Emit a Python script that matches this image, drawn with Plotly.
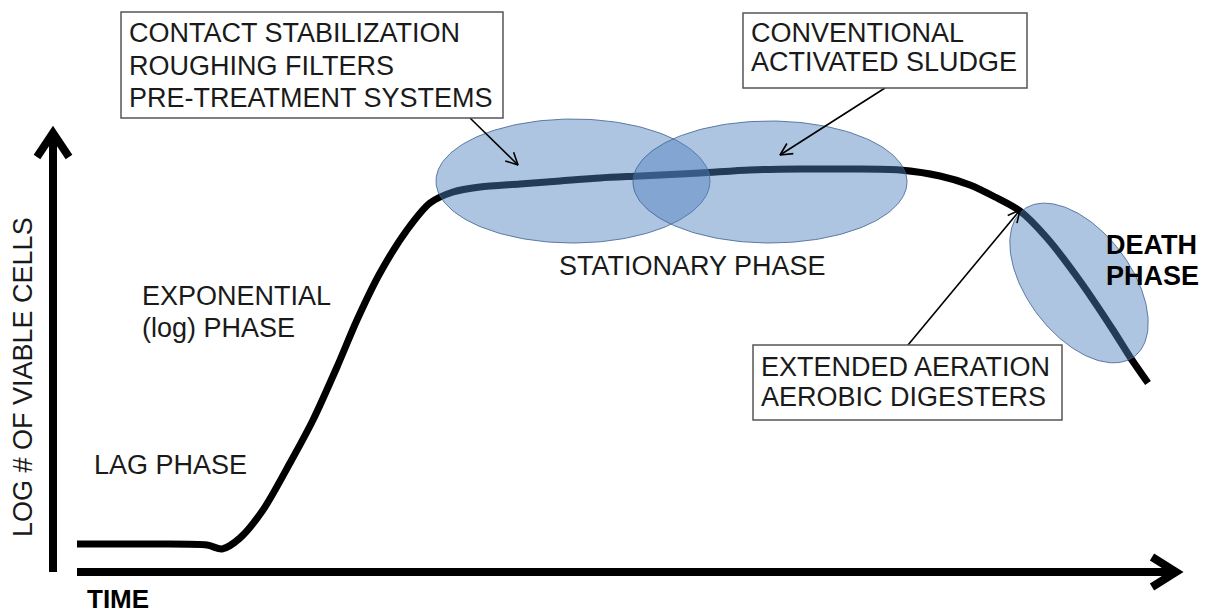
import numpy as np
import plotly.graph_objects as go

# Canvas is drawn in screen-like units: x = time, y = position from the top
W, H = 1210, 614

# growth curve
curve_t = [77, 150, 207, 222, 240, 263, 290, 313, 337, 357, 380, 407, 430, 453, 480,
           520, 560, 600, 640, 700, 750, 800, 850, 900, 940, 970, 995, 1020, 1047,
           1080, 1113, 1130, 1148]
curve_n = [544, 544, 545, 549, 538, 510, 463, 420, 367, 320, 273, 230, 203, 192, 187,
           184, 181, 178, 176, 173, 170, 169, 169, 170, 176, 185, 197, 211, 238,
           281, 330, 357, 383]

# process ellipses: centre, semi-axes, tilt (deg)
ell_cx = [573, 770, 1079]
ell_cy = [181, 182, 283]
ell_rx = [137, 137, 92]
ell_ry = [62, 61, 52]
ell_rot = [0, 0, 53]

# text boxes (x0, x1, y0, y1) and their lines
box_x0 = [121, 743, 753]
box_x1 = [503, 1027, 1062]
box_y0 = [12, 13, 345]
box_y1 = [118, 88, 420]
box_lines = [
    ["CONTACT STABILIZATION", "ROUGHING FILTERS", "PRE-TREATMENT SYSTEMS"],
    ["CONVENTIONAL", "ACTIVATED SLUDGE"],
    ["EXTENDED AERATION", "AEROBIC DIGESTERS"],
]
box_line_y = [[33, 66, 98], [33, 62], [367, 397]]

# callout arrows: tail -> head
arrow_tail_x = [470, 885, 908]
arrow_tail_y = [118, 88, 345]
arrow_head_x = [518, 780, 1020]
arrow_head_y = [165, 155, 210]

FONT = "Arial, 'Liberation Sans', sans-serif"
INK = "#1a1a1a"

fig = go.Figure()

# axes with chevron heads
fig.add_trace(go.Scatter(x=[53, 53], y=[572, 133], mode="lines",
                         line=dict(color="black", width=8), hoverinfo="skip"))
fig.add_trace(go.Scatter(x=[37, 53, 69], y=[157, 133, 157], mode="lines",
                         line=dict(color="black", width=8), hoverinfo="skip"))
fig.add_trace(go.Scatter(x=[77, 1176], y=[572, 572], mode="lines",
                         line=dict(color="black", width=8), hoverinfo="skip"))
fig.add_trace(go.Scatter(x=[1152, 1176, 1152], y=[557, 572, 587], mode="lines",
                         line=dict(color="black", width=8), hoverinfo="skip"))

# growth curve
fig.add_trace(go.Scatter(x=curve_t, y=curve_n, mode="lines",
                         line=dict(color="black", width=7, shape="spline", smoothing=0.8),
                         hoverinfo="skip"))

# ellipses on top of the curve
t = np.linspace(0, 2 * np.pi, 200)
for cx, cy, rx, ry, rot in zip(ell_cx, ell_cy, ell_rx, ell_ry, ell_rot):
    a = np.deg2rad(rot)
    ex = cx + rx * np.cos(t) * np.cos(a) - ry * np.sin(t) * np.sin(a)
    ey = cy + rx * np.cos(t) * np.sin(a) + ry * np.sin(t) * np.cos(a)
    fig.add_trace(go.Scatter(x=ex, y=ey, mode="lines", fill="toself",
                             fillcolor="rgba(79,129,189,0.46)",
                             line=dict(color="rgba(60,95,145,0.8)", width=1),
                             hoverinfo="skip"))

# callout arrows with open heads
for tx, ty, hx, hy in zip(arrow_tail_x, arrow_tail_y, arrow_head_x, arrow_head_y):
    u = np.array([hx - tx, hy - ty], dtype=float)
    u /= np.linalg.norm(u)
    p = np.array([-u[1], u[0]])
    a1 = np.array([hx, hy]) - 12 * u + 6 * p
    a2 = np.array([hx, hy]) - 12 * u - 6 * p
    fig.add_trace(go.Scatter(x=[tx, hx, None, a1[0], hx, a2[0]],
                             y=[ty, hy, None, a1[1], hy, a2[1]],
                             mode="lines", line=dict(color="black", width=1.6),
                             hoverinfo="skip"))

# boxes
for x0, x1, y0, y1 in zip(box_x0, box_x1, box_y0, box_y1):
    fig.add_shape(type="rect", x0=x0, x1=x1, y0=y0, y1=y1, xref="x", yref="y",
                  fillcolor="white", line=dict(color="#555555", width=1.5),
                  layer="above")

annotations = []
for x0, lines, ys in zip(box_x0, box_lines, box_line_y):
    for txt, yy in zip(lines, ys):
        annotations.append(dict(x=x0 + 6, y=yy, text=txt, xanchor="left", yanchor="middle",
                                showarrow=False, font=dict(size=27, color=INK, family=FONT)))

plain = [
    ("EXPONENTIAL", 140, 296, "left", False, 27),
    ("(log) PHASE", 140, 328, "left", False, 27),
    ("LAG PHASE", 92, 465, "left", False, 27),
    ("STATIONARY PHASE", 692, 266, "center", False, 27),
    ("DEATH", 1104, 245, "left", True, 27),
    ("PHASE", 1104, 276, "left", True, 27),
    ("TIME", 85, 599, "left", True, 26),
]
for txt, x, y, anc, bold, size in plain:
    annotations.append(dict(x=x, y=y, text=f"<b>{txt}</b>" if bold else txt,
                            xanchor=anc, yanchor="middle", showarrow=False,
                            font=dict(size=size, color=INK if not bold else "black", family=FONT)))

annotations.append(dict(x=23, y=377, text="LOG # OF VIABLE CELLS", textangle=-90,
                        xanchor="center", yanchor="middle", showarrow=False,
                        font=dict(size=27, color=INK, family=FONT)))

fig.update_layout(
    width=W, height=H,
    margin=dict(l=0, r=0, t=0, b=0),
    paper_bgcolor="white", plot_bgcolor="white",
    showlegend=False,
    xaxis=dict(range=[0, W], visible=False, fixedrange=True),
    yaxis=dict(range=[H, 0], visible=False, fixedrange=True),
    annotations=annotations,
)

# drop the default page margin so the figure sits at the window corner
fig.write_html("out.html", config={"displayModeBar": False},
               post_script="document.body.style.margin='0';document.body.style.overflow='hidden';")
